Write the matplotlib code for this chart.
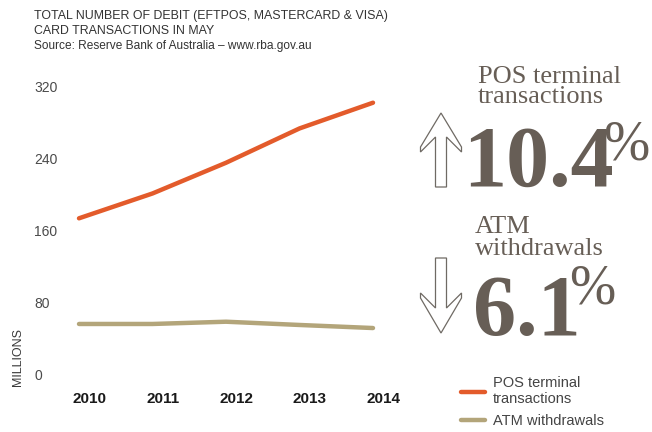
import matplotlib.pyplot as plt
from matplotlib.patches import Polygon

# May debit card transactions, millions
years = [2010, 2011, 2012, 2013, 2014]
pos_terminal = [173.5, 201, 235, 273, 301.5]
atm_withdrawals = [56.5, 56.5, 59, 55.4, 52]
y_ticks = [0, 80, 160, 240, 320]

pos_change = "10.4"
atm_change = "6.1"

ORANGE = "#E35B2B"
TAN = "#B3A57A"
SERIF_GREY = "#675E56"
SANS = ["Liberation Sans", "DejaVu Sans"]
SERIF = ["Liberation Serif", "DejaVu Serif"]

W, H = 652, 432


def px(x, y):
    """pixel position (from top-left) -> figure fraction"""
    return x / W, 1 - y / H


fig = plt.figure(figsize=(W / 100, H / 100), dpi=100)
l, b = px(79, 375)
r, t = px(373, 86)
ax = fig.add_axes([l, b, r - l, t - b])

ax.plot(years, pos_terminal, color=ORANGE, lw=3.2, solid_capstyle="round",
        clip_on=False, label="POS terminal\ntransactions")
ax.plot(years, atm_withdrawals, color=TAN, lw=3.2, solid_capstyle="round",
        clip_on=False, label="ATM withdrawals")

ax.set_xlim(2010, 2014)
ax.set_ylim(0, 320)
for s in ax.spines.values():
    s.set_visible(False)

# year labels sit a little right of their points
ax.set_xticks(years)
ax.set_xticklabels([])
for yr in years:
    ax.annotate(str(yr), xy=(yr, 0), xycoords=("data", "axes fraction"),
                xytext=(7.5, -12.5), textcoords="offset points",
                ha="center", va="top", family=SANS, fontweight="bold",
                fontsize=11, color="#1a1a1a")
ax.set_yticks(y_ticks)
ax.set_yticklabels([str(v) for v in y_ticks], family=SANS, fontsize=10,
                   color="#4a4a4a", ha="left")
ax.tick_params(axis="x", length=0)
ax.tick_params(axis="y", length=0, pad=32.4)

fig.text(*px(18, 386), "MILLIONS", rotation=90, ha="center", va="bottom",
         family=SANS, fontsize=9, color="#3a3a3a")

# heading
fig.text(*px(34, 19), "TOTAL NUMBER OF DEBIT (EFTPOS, MASTERCARD & VISA)",
         family=SANS, fontsize=8.9, color="#333333", va="baseline")
fig.text(*px(34, 34), "CARD TRANSACTIONS IN MAY",
         family=SANS, fontsize=8.9, color="#333333", va="baseline")
fig.text(*px(34, 49), "Source: Reserve Bank of Australia \u2013 www.rba.gov.au",
         family=SANS, fontsize=8.6, color="#333333", va="baseline")

# headline figures
fig.text(*px(478, 83), "POS terminal", family=SERIF, fontsize=19,
         color=SERIF_GREY, va="baseline")
fig.text(*px(478, 103), "transactions", family=SERIF, fontsize=19,
         color=SERIF_GREY, va="baseline")
fig.text(*px(463, 186), pos_change, family=SERIF, fontsize=62,
         fontweight="bold", color=SERIF_GREY, va="baseline")
fig.text(*px(603, 119), "%", family=SERIF, fontsize=40,
         color=SERIF_GREY, va="top")

fig.text(*px(475, 233), "ATM", family=SERIF, fontsize=19,
         color=SERIF_GREY, va="baseline")
fig.text(*px(475, 255), "withdrawals", family=SERIF, fontsize=19,
         color=SERIF_GREY, va="baseline")
fig.text(*px(473, 335), atm_change, family=SERIF, fontsize=62,
         fontweight="bold", color=SERIF_GREY, va="baseline")
fig.text(*px(569, 263), "%", family=SERIF, fontsize=40,
         color=SERIF_GREY, va="top")

# outline arrows
up = [(441, 113), (420.5, 147), (420.5, 152), (435.5, 137), (435.5, 187),
      (446.5, 187), (446.5, 137), (461.5, 152), (461.5, 147)]
down = [(441, 333), (420.5, 298), (420.5, 293), (435.5, 308), (435.5, 258),
        (446.5, 258), (446.5, 308), (461.5, 293), (461.5, 298)]
for shape in (up, down):
    fig.patches.append(Polygon([px(x, y) for x, y in shape], closed=True,
                               transform=fig.transFigure, facecolor="white",
                               edgecolor="#6f6a64", lw=0.9))

fig.legend(loc="upper left", bbox_to_anchor=px(448, 363), frameon=False,
           handlelength=1.65, handletextpad=0.55, labelspacing=0.5,
           prop={"family": SANS, "size": 10.5}, labelcolor="#444444")

fig.savefig("out.png", dpi=100)
